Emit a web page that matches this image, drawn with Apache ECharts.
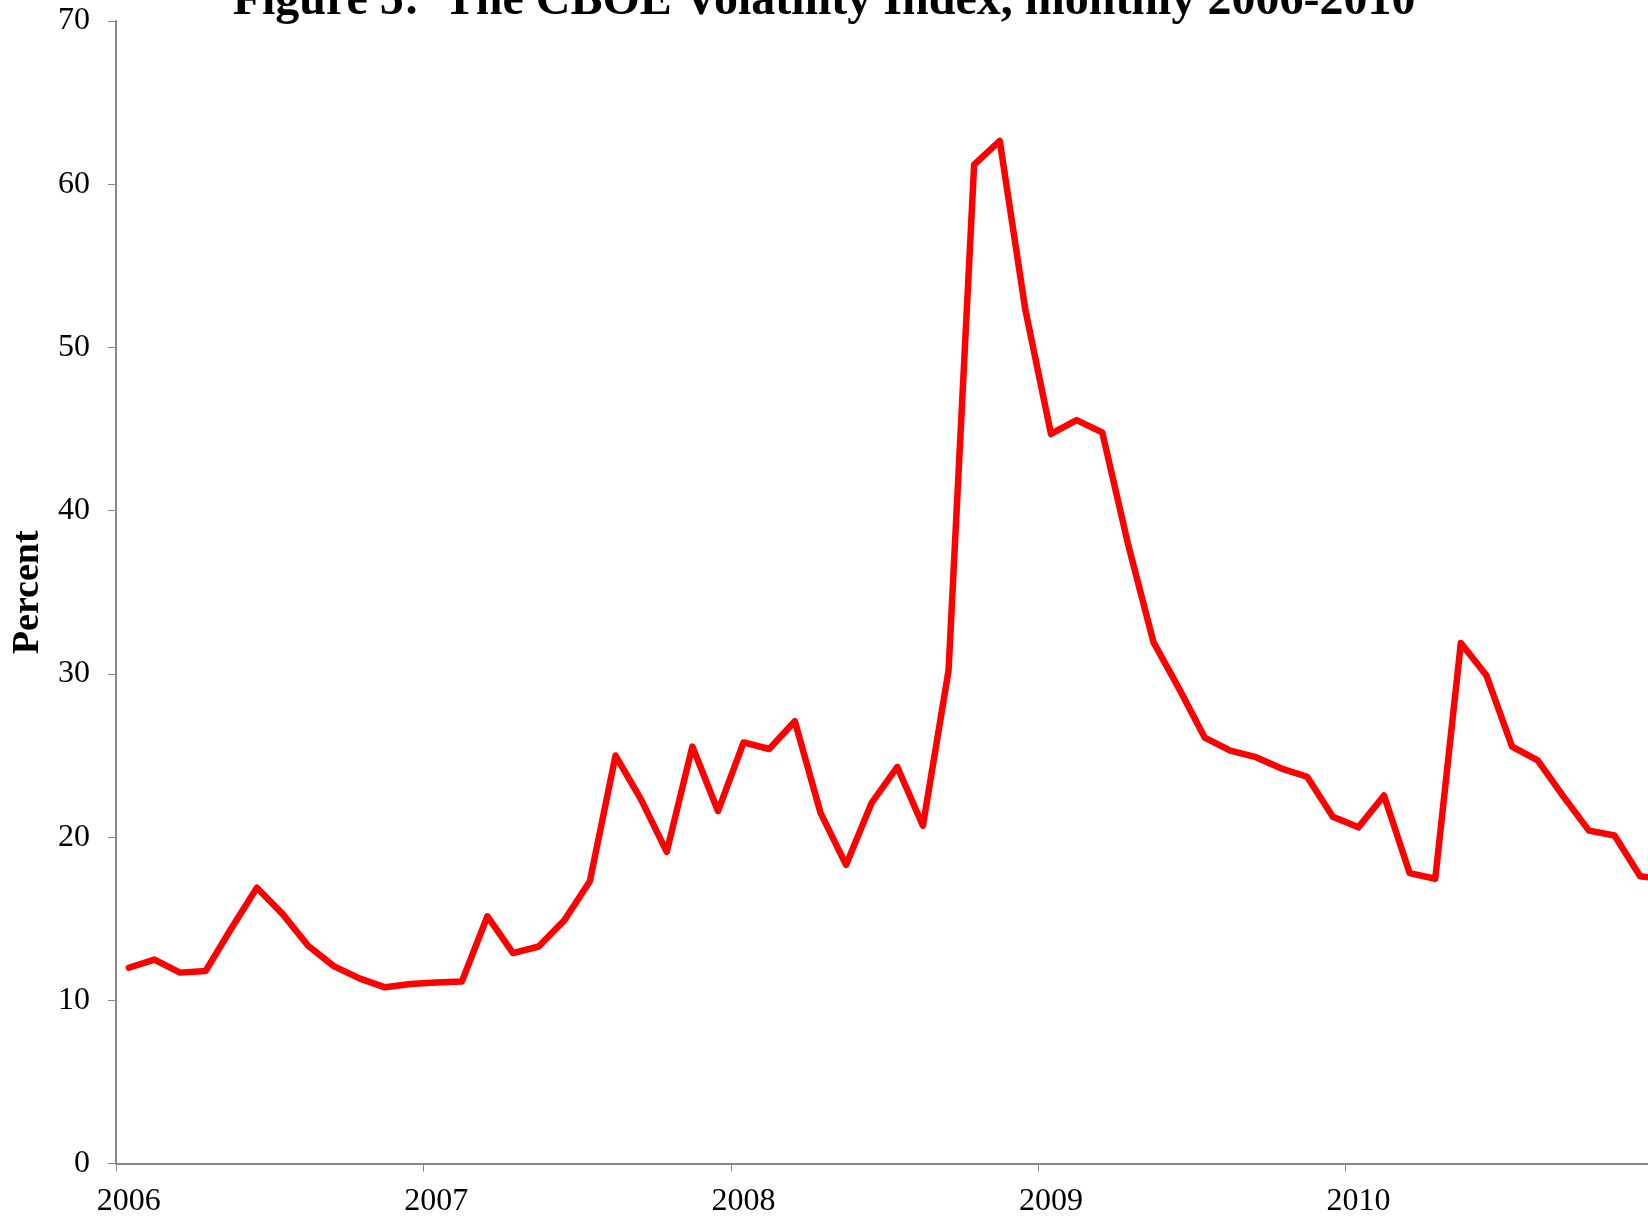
<!DOCTYPE html>
<html>
<head>
<meta charset="utf-8">
<style>
html,body{margin:0;padding:0;background:#fff;}
#chart{width:1648px;height:1220px;}
</style>
<script src="https://cdn.jsdelivr.net/npm/echarts@6/dist/echarts.min.js"></script>
</head>
<body>
<div id="chart"></div>
<script>
const years = ["2006","2007","2008","2009","2010"];
const months = [];
years.forEach(function(y){ for (let m = 1; m <= 12; m++) months.push(y + "-" + (m < 10 ? "0" + m : m)); });
months.push("2011-01");

const vix2006 = [12.0, 12.5, 11.7, 11.8, 14.4, 16.9, 15.3, 13.35, 12.1, 11.35, 10.8, 11.0];
const vix2007 = [11.1, 11.15, 15.15, 12.9, 13.3, 14.9, 17.3, 25.0, 22.3, 19.1, 25.55, 21.6];
const vix2008 = [25.8, 25.4, 27.1, 21.5, 18.3, 22.1, 24.3, 20.7, 30.2, 61.2, 62.65, 52.3];
const vix2009 = [44.7, 45.55, 44.8, 38.0, 31.95, 29.1, 26.1, 25.3, 24.9, 24.2, 23.7, 21.25];
const vix2010 = [20.6, 22.55, 17.8, 17.45, 31.9, 29.9, 25.55, 24.7, 22.5, 20.4, 20.1, 17.6];
const vix2011 = [17.4];
const vix = [].concat(vix2006, vix2007, vix2008, vix2009, vix2010, vix2011);

const titleText = "Figure 5:  The CBOE Volatility Index, monthly 2006-2010";
const yName = "Percent";

const chart = echarts.init(document.getElementById('chart'), null, {renderer: 'canvas'});
const serif = "'Liberation Serif', 'Times New Roman', serif";
chart.setOption({
  animation: false,
  backgroundColor: '#ffffff',
  title: {
    text: titleText,
    left: 'center',
    top: -27,
    textStyle: {fontFamily: serif, fontWeight: 'bold', fontSize: 48, color: '#000'}
  },
  grid: {left: 116, top: 21, width: 1562.6, height: 1142.6, containLabel: false, outerBoundsMode: 'none'},
  xAxis: {
    type: 'category',
    data: months,
    boundaryGap: true,
    axisLine: {show: true, lineStyle: {color: '#878787', width: 2}},
    axisTick: {show: true, interval: 11, length: 8, lineStyle: {color: '#878787', width: 1}},
    axisLabel: {
      interval: 11,
      margin: 22,
      fontFamily: serif, fontSize: 32, color: '#000',
      formatter: function(v){ return v.slice(0,4) === "2011" ? "" : v.slice(0,4); }
    },
    splitLine: {show: false}
  },
  yAxis: {
    type: 'value',
    min: 0, max: 70, interval: 10,
    name: yName,
    nameLocation: 'middle',
    nameGap: 64,
    nameRotate: 90,
    nameTextStyle: {fontFamily: serif, fontWeight: 'bold', fontSize: 38, color: '#000'},
    axisLine: {show: true, lineStyle: {color: '#878787', width: 2}},
    axisTick: {show: true, inside: false, length: 8, lineStyle: {color: '#878787', width: 1}},
    axisLabel: {margin: 26, fontFamily: serif, fontSize: 32, color: '#000'},
    splitLine: {show: false}
  },
  series: [{
    type: 'line',
    data: vix,
    symbol: 'none',
    lineStyle: {color: '#ff0000', width: 6.5, join: 'round', cap: 'round'},
    clip: false
  }]
});
</script>
</body>
</html>
